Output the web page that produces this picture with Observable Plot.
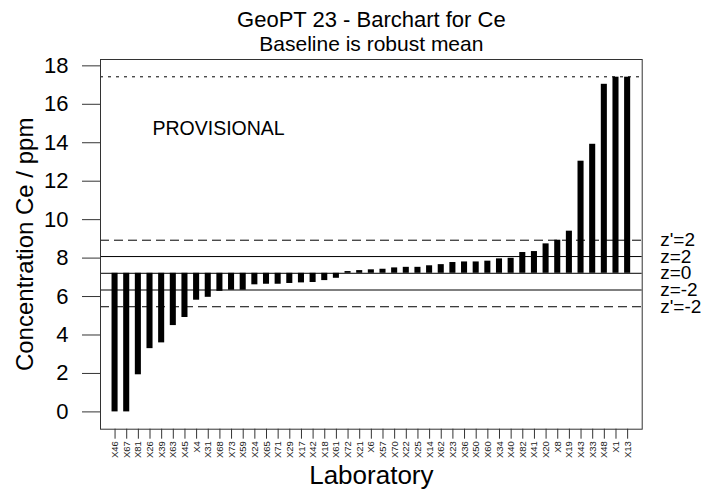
<!DOCTYPE html>
<html><head><meta charset="utf-8">
<script src="https://cdn.jsdelivr.net/npm/d3@7"></script>
<script src="https://cdn.jsdelivr.net/npm/@observablehq/plot@0.6"></script>
<style>body{margin:0;background:#fff} svg{display:block}</style>
</head><body><div id="chart"></div>
<script>
const labs = ["X46","X67","X81","X26","X39","X63","X45","X4","X31","X68",
  "X73","X59","X24","X65","X71","X29","X17","X42","X18","X61",
  "X72","X21","X6","X57","X70","X22","X25","X14","X62","X23",
  "X36","X50","X60","X34","X40","X82","X41","X20","X8","X19",
  "X43","X33","X48","X1","X13"];
const values = [0.0,0.0,1.93,3.29,3.59,4.49,4.91,5.81,5.96,6.27,
  6.33,6.33,6.61,6.64,6.64,6.68,6.71,6.73,6.83,6.95,
  7.30,7.35,7.39,7.42,7.49,7.52,7.52,7.60,7.66,7.77,
  7.80,7.80,7.84,7.96,7.99,8.29,8.34,8.74,8.93,9.40,
  13.04,13.92,17.04,17.41,17.41];
const robustMean = 7.21;
const zValues = [8.08, 6.34];
const zPrimeValues = [8.93, 5.47];
const capValue = 17.43;
const refValues = [8.93, 8.08, 7.21, 6.34, 5.47];
const refLabels = ["z'=2", "z=2", "z=0", "z=-2", "z'=-2"];
const yTicks = [0, 2, 4, 6, 8, 10, 12, 14, 16, 18];
const titleText = "GeoPT 23 - Barchart for Ce";
const subtitleText = "Baseline is robust mean";
const yLabel = "Concentration Ce / ppm";
const xLabel = "Laboratory";
const stamp = "PROVISIONAL";

const data = labs.map((lab, i) => ({lab, value: values[i]}));

const chart = Plot.plot({
  width: 722, height: 492,
  marginLeft: 100, marginRight: 80.3, marginTop: 59, marginBottom: 63.3,
  style: {fontFamily: "'Liberation Sans', Arial, sans-serif", background: "#fff", color: "#000"},
  x: {domain: labs, paddingInner: 0.48, paddingOuter: 0.99, round: false, label: null},
  y: {domain: [-0.9, 18.33], label: null},
  marks: [
    Plot.ruleY([capValue], {strokeDasharray: "3,5", stroke: "#000"}),
    Plot.ruleY(zPrimeValues, {strokeDasharray: "9,5", stroke: "#000"}),
    Plot.ruleY(zValues, {stroke: "#000"}),
    Plot.ruleY([robustMean], {stroke: "#000"}),
    Plot.barY(data, {x: "lab", y1: robustMean, y2: "value", fill: "#000"}),
    Plot.frame({stroke: "#333"}),
    Plot.axisY(yTicks, {tickSize: 18, tickPadding: 14, fontSize: 22, stroke: "#333"}),
    Plot.axisX({tickSize: 10, tickRotate: -90, fontSize: 9.5, tickPadding: 2, stroke: "#333", fill: "#222"}),
    Plot.text([titleText], {frameAnchor: "top", lineAnchor: "bottom", dy: -33, fontSize: 22}),
    Plot.text([subtitleText], {frameAnchor: "top", lineAnchor: "bottom", dy: -9, fontSize: 21}),
    Plot.text([yLabel], {frameAnchor: "left", textAnchor: "middle", rotate: -90, dx: -75, fontSize: 24}),
    Plot.text([xLabel], {frameAnchor: "bottom", lineAnchor: "bottom", dy: 55, fontSize: 26}),
    Plot.text([stamp], {frameAnchor: "top-left", textAnchor: "start", lineAnchor: "middle", dx: 52, dy: 69, fontSize: 19.5}),
    Plot.text(refLabels, {y: refValues, frameAnchor: "right", textAnchor: "start", dx: 18, fontSize: 19})
  ]
});
document.getElementById("chart").appendChild(chart);
</script>
</body></html>
